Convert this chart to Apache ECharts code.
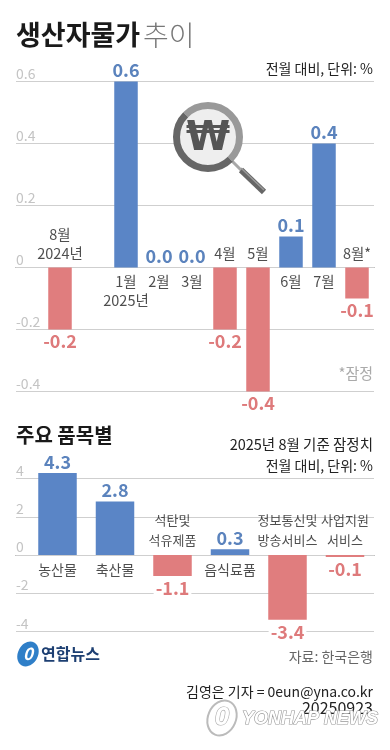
<!DOCTYPE html>
<html><head><meta charset="utf-8">
<style>html,body{margin:0;padding:0;background:#fff}#c{width:390px;height:750px}</style>
<script src="https://cdn.jsdelivr.net/npm/echarts@6/dist/echarts.min.js"></script>
</head><body><div id="c"></div>
<script>
const FONT = '"Noto Sans CJK KR","Noto Sans",sans-serif';
const monthLabels = ['8월\n2024년','', '1월\n2025년','2월','3월','4월','5월','6월','7월','8월*'];
const monthValues = [-0.2,null,0.6,0.0,0.0,-0.2,-0.4,0.1,0.4,-0.1];
const monthTicks = [-0.4,-0.2,0,0.2,0.4,0.6];
const itemLabels = ['농산물','축산물','석탄및\n석유제품','음식료품','정보통신및\n방송서비스','사업지원\n서비스'];
const itemValues = [4.3,2.8,-1.1,0.3,-3.4,-0.1];
const itemLabelAbove = [false,false,true,false,true,true];
const BLUE='#5a85c6', RED='#e07d7e', BLUET='#5b83bd', REDT='#de7a7b';

function valueLabel(v, size, bg){
  return {show:true, position:v<0?'bottom':'top', distance:v<0?3:2,
    formatter:v.toFixed(1), color:v<0?REDT:BLUET, fontFamily:FONT, fontWeight:700, fontSize:size,
    backgroundColor:bg||'transparent', padding:bg?[0,2]:0};
}
function barData(vals,size,bg){
  return vals.map((v,i)=>v===null?null:({value:[i,v],
    itemStyle:{color:v<0?RED:BLUE}, label:valueLabel(v,size,bg)}));
}
function catData(labels,vals,above,dist,sizeUp,sizeDown,lh){
  return labels.map((t,i)=>{
    if(!t) return null;
    const up = above? above[i] : vals[i]<0;
    return {value:[i,0], label:{show:true, formatter:t, position:up?'top':'bottom', distance:dist,
      color:'#222', fontFamily:FONT, fontSize:up?sizeUp:sizeDown, lineHeight:lh}};
  });
}
const axisY=(g,min,max,step,showMax,fmt)=>({type:'value',gridIndex:g,min,max,interval:step,
  axisLine:{show:false},axisTick:{show:false},
  splitLine:{show:true,showMaxLine:showMax,lineStyle:{color:'#cfcfcf',width:1}},
  axisLabel:{show:true,inside:true,margin:0,align:'left',verticalAlign:'bottom',color:'#c4c4c4',
    fontFamily:FONT,fontSize:14,padding:[0,0,1,0],formatter:fmt},z:1});
const axisX=(g,min,max)=>({type:'value',gridIndex:g,min,max,show:true,
  axisLine:{show:true,onZero:true,lineStyle:{color:'#666',width:1}},
  axisTick:{show:false},axisLabel:{show:false},splitLine:{show:false}});

const txt=(x,y,t,o)=>({type:'text',x,y,silent:true,z:20,style:Object.assign({text:t,fontFamily:FONT,fontSize:14,fill:'#222',textAlign:'right',textVerticalAlign:'middle'},o||{})});

const C={x:208,y:137};
const magnifier=[
  {type:'line',z:10,shape:{x1:C.x+24,y1:C.y+24,x2:C.x+34,y2:C.y+34},style:{stroke:'#a8a8a8',lineWidth:3}},
  {type:'line',z:10,shape:{x1:C.x+33,y1:C.y+33,x2:C.x+56,y2:C.y+55},style:{stroke:'#666',lineWidth:6}},
  {type:'line',z:11,shape:{x1:C.x+33,y1:C.y+31,x2:C.x+56,y2:C.y+53},style:{stroke:'#9a9a9a',lineWidth:1.5}},
  {type:'circle',z:10,shape:{cx:C.x,cy:C.y,r:31},style:{fill:'#eeeeee'}},
  {type:'arc',z:11,shape:{cx:C.x,cy:C.y,r:31.5,startAngle:-Math.PI*0.75,endAngle:Math.PI*0.25,clockwise:true},style:{stroke:'#999',lineWidth:7,fill:null}},
  {type:'arc',z:11,shape:{cx:C.x,cy:C.y,r:31.5,startAngle:Math.PI*0.25,endAngle:Math.PI*1.25,clockwise:true},style:{stroke:'#666',lineWidth:7,fill:null}},
  {type:'text',z:12,x:C.x,y:C.y+3,style:{text:'₩',fontFamily:'"DejaVu Sans",sans-serif',fontWeight:700,fontSize:40,fill:'#555',textAlign:'center',textVerticalAlign:'middle'}}
];

const option={
  animation:false,backgroundColor:'#fff',
  grid:[{left:16,width:358,top:81.5,height:310},{left:16,width:358,top:440.55,height:190.75}],
  xAxis:[axisX(0,-44/33,314/33),axisX(1,-41.5/57.5,316.5/57.5)],
  yAxis:[axisY(0,monthTicks[0],monthTicks[5],0.2,true,v=>Math.abs(v)<1e-9?'0':v.toFixed(1)),
         axisY(1,-4,6,2,false,v=>v===6?'':String(v))],
  series:[
    {type:'bar',xAxisIndex:0,yAxisIndex:0,barWidth:23.5,data:barData(monthValues,18),z:3},
    {type:'scatter',xAxisIndex:0,yAxisIndex:0,symbolSize:0,data:catData(monthLabels,monthValues,null,4,14.5,14.5,19.5),z:4},
    {type:'bar',xAxisIndex:1,yAxisIndex:1,barWidth:38.5,data:barData(itemValues,18,'#fff'),z:3},
    {type:'scatter',xAxisIndex:1,yAxisIndex:1,symbolSize:0,data:catData(itemLabels,itemValues,itemLabelAbove,5,13,14,20),z:4}
  ],
  graphic:[
    txt(16,35,'생산자물가',{textAlign:'left',fontWeight:700,fontSize:27,fill:'#1a1a1a'}),
    txt(143,35,'추이',{textAlign:'left',fontWeight:300,fontSize:28,fill:'#777'}),
    txt(373,69,'전월 대비, 단위: %',{fontSize:14}),
    txt(373,373,'*잠정',{fontSize:15,fill:'#aaa'}),
    txt(16,435,'주요 품목별',{textAlign:'left',fontWeight:700,fontSize:20,fill:'#1a1a1a'}),
    txt(373,444,'2025년 8월 기준 잠정치',{fontSize:14.5}),
    txt(373,466,'전월 대비, 단위: %',{fontSize:14}),
    txt(373,657,'자료: 한국은행',{fontSize:14,fill:'#666'}),
    txt(373,692,'김영은 기자 = 0eun@yna.co.kr',{fontSize:14}),
    txt(373,708,'20250923',{fontSize:16}),
    // Yonhap logo
    {type:'ellipse',z:20,rotation:-0.5,x:28,y:654,shape:{cx:0,cy:0,rx:10,ry:13},style:{fill:'#2f7fc8'}},
    {type:'text',z:21,x:28,y:654,style:{text:'0',fontFamily:FONT,fontStyle:'italic',fontWeight:700,fontSize:17,fill:'#fff',textAlign:'center',textVerticalAlign:'middle'}},
    txt(41,654,'연합뉴스',{textAlign:'left',fontWeight:700,fontSize:16,fill:'#1d3f72'}),
    // watermark
    {type:'ellipse',z:22,rotation:-0.4,x:222,y:718,shape:{cx:0,cy:0,rx:14,ry:18},style:{fill:'rgba(255,255,255,0.85)',stroke:'#bbb',lineWidth:2}},
    {type:'text',z:23,x:222,y:718,style:{text:'0',fontFamily:'"Liberation Sans",sans-serif',fontStyle:'italic',fontWeight:700,fontSize:26,fill:'#fff',stroke:'#aaa',lineWidth:1.2,textAlign:'center',textVerticalAlign:'middle'}},
    {type:'text',z:23,x:378,y:719,style:{text:'YONHAP NEWS',fontFamily:'"Liberation Sans",sans-serif',fontStyle:'italic',fontWeight:700,fontSize:18,fill:'#fff',stroke:'#999',lineWidth:1.2,textAlign:'right',textVerticalAlign:'middle'}}
  ].concat(magnifier)
};
echarts.init(document.getElementById('c'),null,{renderer:'canvas'}).setOption(option);
</script></body></html>
